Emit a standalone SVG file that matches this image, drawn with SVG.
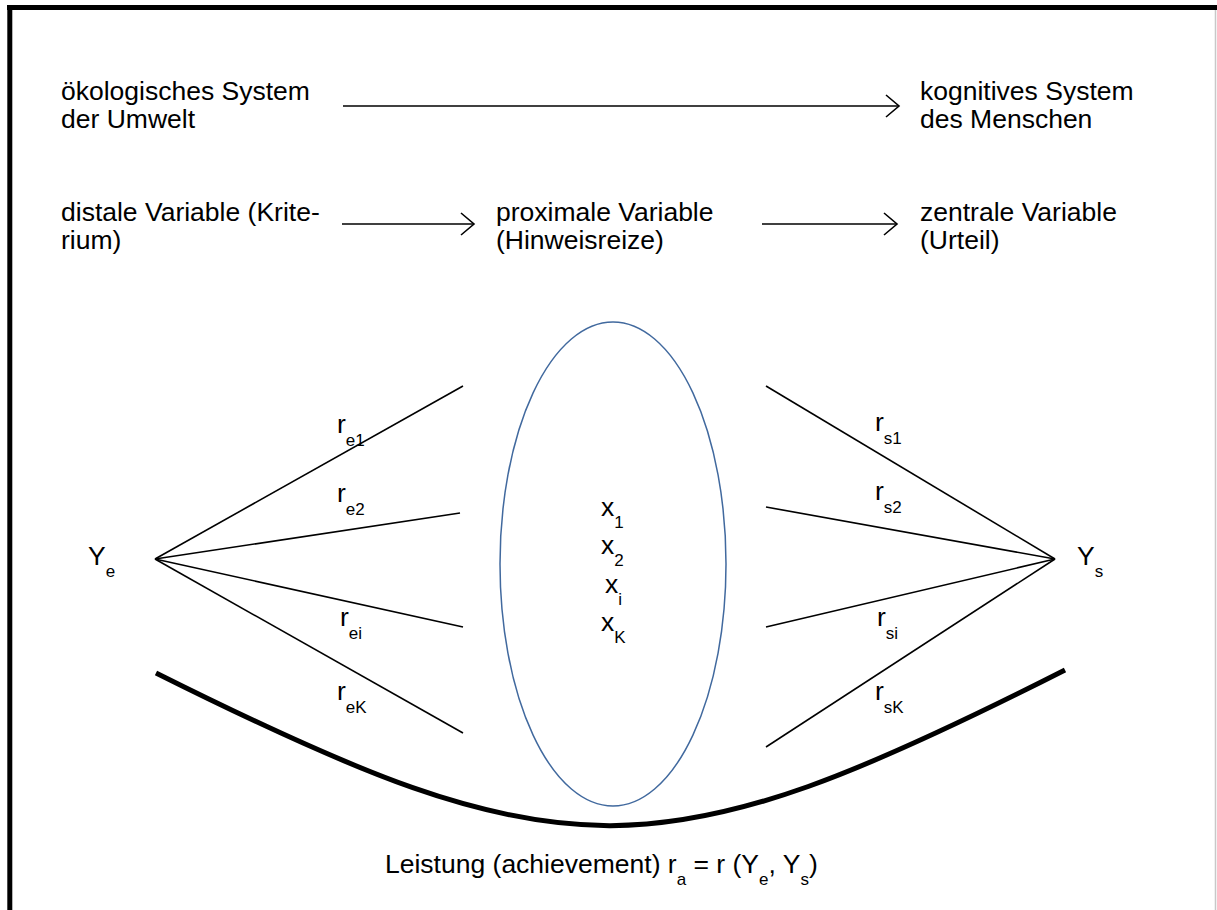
<svg xmlns="http://www.w3.org/2000/svg" width="1217" height="910" viewBox="0 0 1217 910">
<style>
text{font-family:"Liberation Sans",Arial,sans-serif;font-size:26.5px;fill:#000}
.sub{font-size:17px}
.ln{stroke:#000;stroke-width:1.6;fill:none}
.arr{stroke:#000;stroke-width:1.6;fill:none;marker-end:url(#chev)}
</style>
<defs>
<marker id="chev" markerWidth="16" markerHeight="24" refX="14" refY="12" orient="auto" markerUnits="userSpaceOnUse">
<path d="M1,1 L14,12 L1,23" fill="none" stroke="#000" stroke-width="1.6"/>
</marker>
</defs>
<rect width="1217" height="910" fill="#fff"/>
<g id="frame">
<line x1="7" y1="7.5" x2="1217" y2="7.5" stroke="#000" stroke-width="5"/>
<line x1="9.8" y1="5" x2="9.8" y2="910" stroke="#000" stroke-width="5"/>
<line x1="1215.5" y1="10" x2="1215.5" y2="910" stroke="#c8c8c8" stroke-width="1.5"/>
</g>
<g id="oeko"><text x="61" y="100">ökologisches System</text><text x="61" y="128">der Umwelt</text></g>
<g id="kogn"><text x="920" y="100">kognitives System</text><text x="920" y="128">des Menschen</text></g>
<g id="distal"><text x="61" y="221">distale Variable (Krite-</text><text x="61" y="249">rium)</text></g>
<g id="proximal"><text x="496" y="221">proximale Variable</text><text x="496" y="249">(Hinweisreize)</text></g>
<g id="zentral"><text x="920" y="221">zentrale Variable</text><text x="920" y="249">(Urteil)</text></g>
<g id="cues">
<ellipse cx="613" cy="564" rx="113" ry="242" fill="none" stroke="#41699e" stroke-width="1.5"/>
<text x="601" y="516">x<tspan class="sub" dy="12">1</tspan></text>
<text x="601" y="554">x<tspan class="sub" dy="12">2</tspan></text>
<text x="605" y="593">x<tspan class="sub" dy="12">i</tspan></text>
<text x="601" y="631">x<tspan class="sub" dy="12">K</tspan></text>
</g>
<g id="Ye"><text x="88" y="565">Y<tspan class="sub" dy="12">e</tspan></text></g>
<g id="Ys"><text x="1077" y="565">Y<tspan class="sub" dy="12">s</tspan></text></g>
<g id="connectors">
<line class="arr" x1="343" y1="106" x2="899" y2="106"/>
<line class="arr" x1="342" y1="224" x2="474" y2="224"/>
<line class="arr" x1="762" y1="224" x2="897" y2="224"/>
<line class="ln" x1="155" y1="559" x2="463" y2="386"/>
<line class="ln" x1="155" y1="559" x2="460" y2="513"/>
<line class="ln" x1="155" y1="559" x2="463" y2="627"/>
<line class="ln" x1="155" y1="559" x2="463" y2="733"/>
<line class="ln" x1="1055" y1="559" x2="766" y2="386"/>
<line class="ln" x1="1055" y1="559" x2="766" y2="507"/>
<line class="ln" x1="1055" y1="559" x2="766" y2="627"/>
<line class="ln" x1="1055" y1="559" x2="766" y2="747"/>
<path d="M156,673 C564,877 657,877 1065,670" fill="none" stroke="#000" stroke-width="5"/>
</g>
<g id="labels">
<text x="337" y="433">r<tspan class="sub" dy="13">e1</tspan></text>
<text x="337" y="502">r<tspan class="sub" dy="13">e2</tspan></text>
<text x="340" y="626">r<tspan class="sub" dy="13">ei</tspan></text>
<text x="337" y="700">r<tspan class="sub" dy="13">eK</tspan></text>
<text x="875" y="431">r<tspan class="sub" dy="13">s1</tspan></text>
<text x="875" y="500">r<tspan class="sub" dy="13">s2</tspan></text>
<text x="877" y="626">r<tspan class="sub" dy="13">si</tspan></text>
<text x="875" y="700">r<tspan class="sub" dy="13">sK</tspan></text>
</g>
<g id="leistung"><text x="385" y="873">Leistung (achievement) r<tspan class="sub" dy="12">a</tspan><tspan dy="-12"> = r (Y</tspan><tspan class="sub" dy="12">e</tspan><tspan dy="-12">, Y</tspan><tspan class="sub" dy="12">s</tspan><tspan dy="-12">)</tspan></text></g>
</svg>
